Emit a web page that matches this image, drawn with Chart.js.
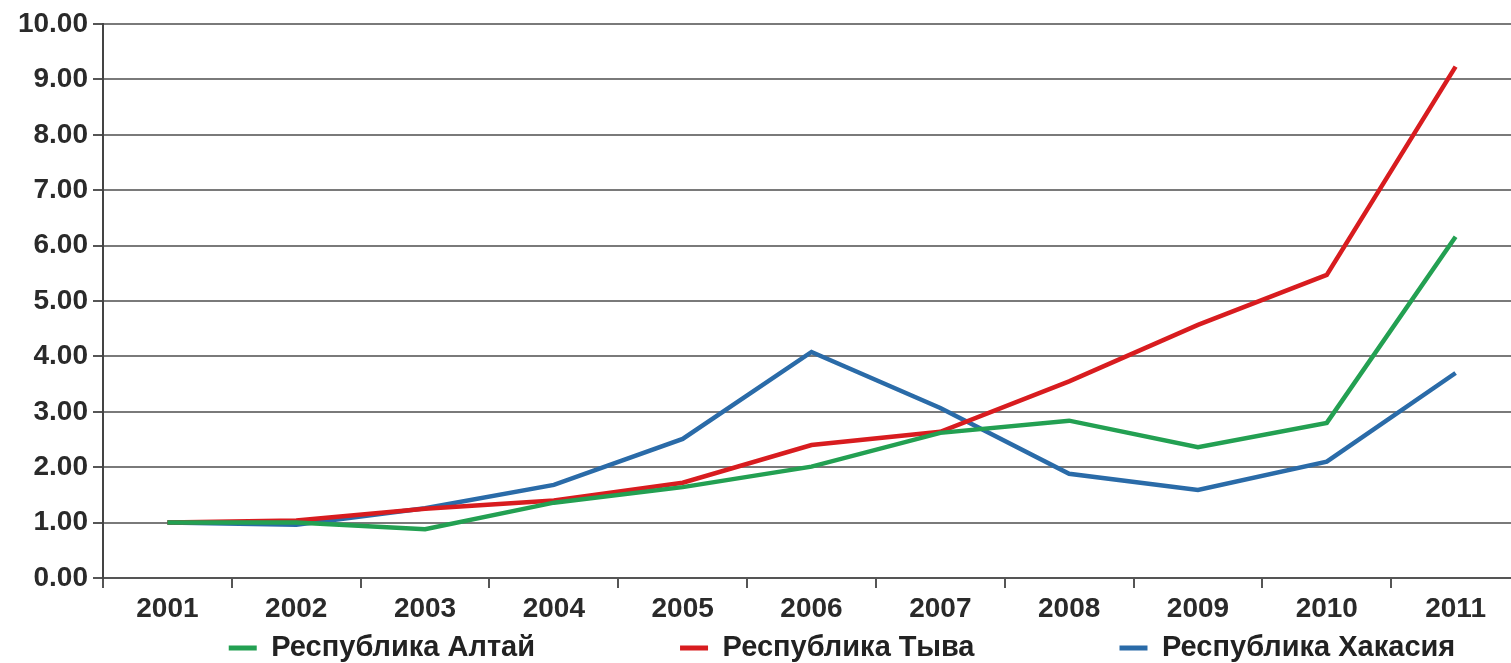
<!DOCTYPE html>
<html>
<head>
<meta charset="utf-8">
<script src="https://cdn.jsdelivr.net/npm/chart.js@4"></script>
<style>
  html, body { margin: 0; padding: 0; background: #fff; overflow: hidden; }
  #wrap { width: 1520px; height: 663px; }
</style>
</head>
<body>
<div id="wrap"><canvas id="chart" width="1520" height="663"></canvas></div>
<script>
const years = ["2001", "2002", "2003", "2004", "2005", "2006", "2007", "2008", "2009", "2010", "2011"];
const altai = [1.00, 1.00, 0.88, 1.36, 1.64, 2.01, 2.62, 2.84, 2.36, 2.80, 6.16];
const tyva = [1.00, 1.04, 1.25, 1.40, 1.72, 2.40, 2.64, 3.55, 4.57, 5.47, 9.23];
const khakasia = [1.00, 0.96, 1.26, 1.68, 2.51, 4.08, 3.07, 1.88, 1.59, 2.10, 3.70];
const seriesNames = ["Республика Алтай", "Республика Тыва", "Республика Хакасия"];
const yMin = 0, yMax = 10, yStep = 1;

const colors = ["#23a052", "#d81c1f", "#2a6ba8"];
const font = "'Liberation Sans', Arial, sans-serif";
const legendPad = 145;

// legend: keep it short in the layout, then move the row into place
const legendShift = {
  id: "legendShift",
  beforeLayout(chart) {
    const lg = chart.legend;
    if (lg && !lg._patched) {
      const fit = lg.fit.bind(lg);
      lg.fit = function () { fit(); this.height = 35; };
      lg._patched = true;
    }
  },
  afterLayout(chart) {
    const lg = chart.legend;
    lg.left += 82;
    lg.right += 82;
    lg.top = 648 - legendPad - 14.5;
  }
};

const ctx = document.getElementById("chart").getContext("2d");
new Chart(ctx, {
  type: "line",
  data: {
    labels: years,
    datasets: [altai, tyva, khakasia].map((vals, i) => ({
      label: seriesNames[i],
      data: vals,
      borderColor: colors[i],
      backgroundColor: colors[i],
      borderWidth: 4.5,
      pointRadius: 0,
      tension: 0,
      fill: false,
    })),
  },
  options: {
    responsive: false,
    animation: false,
    layout: { padding: { top: 24, right: 0, left: 0, bottom: 0 } },
    plugins: {
      tooltip: { enabled: false },
      legend: {
        position: "bottom",
        labels: {
          color: "#222",
          font: { family: font, size: 29, weight: "bold" },
          boxWidth: 28,
          boxHeight: 5,
          padding: legendPad,
          generateLabels(chart) {
            return Chart.defaults.plugins.legend.labels.generateLabels(chart).map((l) => ({ ...l, lineWidth: 0 }));
          },
        },
      },
    },
    scales: {
      x: {
        offset: true,
        afterFit(scale) { scale.height = 50; },
        grid: { offset: true, drawOnChartArea: false, tickLength: 10, color: "#555", lineWidth: 2 },
        border: { color: "#555", width: 2 },
        ticks: { color: "#2a2a2a", font: { family: font, size: 28, weight: "bold" }, padding: 4, maxRotation: 0 },
      },
      y: {
        min: yMin,
        max: yMax,
        afterFit(scale) { scale.width = 103; },
        grid: { color: "#7a7a7a", lineWidth: 2, tickLength: 10, tickColor: "#555" },
        border: { color: "#444", width: 2 },
        ticks: {
          stepSize: yStep,
          color: "#2a2a2a",
          padding: 5,
          font: { family: font, size: 28, weight: "bold" },
          callback: (v) => v.toFixed(2),
        },
      },
    },
  },
  plugins: [legendShift],
});
</script>
</body>
</html>
